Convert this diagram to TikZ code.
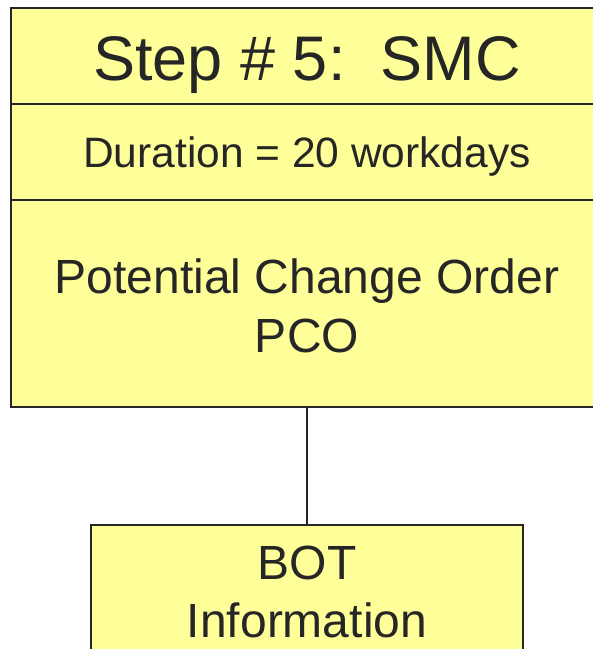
\documentclass[tikz,border=0pt]{standalone}
\usepackage{fontspec}
\setmainfont{Liberation Sans}
\definecolor{boxfill}{HTML}{FFFF99}
\definecolor{ink}{HTML}{262626}
\begin{document}
\begin{tikzpicture}[x=1pt,y=-1pt,
  cell/.style={draw=ink, line width=2pt, fill=boxfill, inner sep=0pt, outer sep=0pt, anchor=north},
  txt/.style={text=ink, inner sep=0pt, anchor=base},
  big/.style={font=\fontsize{63}{70}\selectfont},
  mid/.style={font=\fontsize{42.5}{50}\selectfont},
  std/.style={font=\fontsize{48}{58}\selectfont},
  link/.style={draw=ink, line width=2pt}]
\useasboundingbox (0,0) rectangle (593,649);
\clip (0,0) rectangle (593,649);
% top box cells
\node[cell, minimum width=592pt, minimum height=95.5pt] (titlebox) at (307,8) {};
\node[cell, minimum width=592pt, minimum height=96.5pt] (durbox) at (titlebox.south) {};
\node[cell, minimum width=592pt, minimum height=207pt] (pcobox) at (durbox.south) {};
% bottom box
\node[cell, minimum width=432pt, minimum height=200pt] (botbox) at (307,525) {};
% connector
\draw[link] (pcobox.south) -- (botbox.north);
% texts
\node[txt, big] (titletext) at (307,80) {Step \# 5:\ \ SMC};
\node[txt, mid] (durtext) at (307,167) {Duration = 20 workdays};
\node[txt, std] (pcoa) at (307,293) {Potential Change Order};
\node[txt, std] (pcob) at (307,352) {PCO};
\node[txt, std] (bota) at (307,579) {BOT};
\node[txt, std] (botb) at (307,637) {Information};
\end{tikzpicture}
\end{document}
